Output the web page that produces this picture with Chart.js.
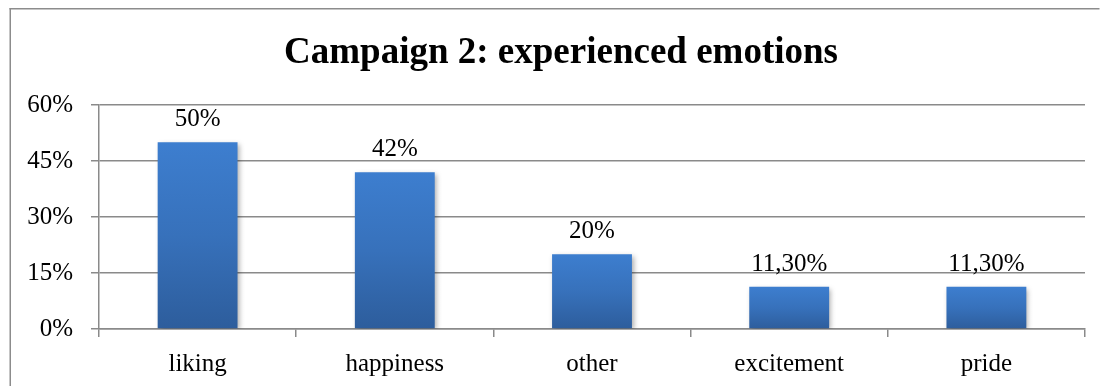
<!DOCTYPE html>
<html>
<head>
<meta charset="utf-8">
<script src="https://cdn.jsdelivr.net/npm/chart.js@4/dist/chart.umd.min.js"></script>
<style>
  html, body { margin: 0; padding: 0; background: #ffffff; overflow: hidden; }
  #wrap { width: 1102px; height: 388px; }
  canvas { display: block; }
</style>
</head>
<body>
<div id="wrap"><canvas id="chart" width="1102" height="388"></canvas></div>
<script>
// Share of respondents reporting each emotion
const categories = ['liking', 'happiness', 'other', 'excitement', 'pride'];
const shares = [50, 42, 20, 11.3, 11.3];
const yTicks = [0, 15, 30, 45, 60];
const chartTitle = 'Campaign 2: experienced emotions';

const SERIF = "'Liberation Serif', 'Times New Roman', serif";
const GRID = '#8a8a8a';

function formatShare(v) {
  return Number.isInteger(v) ? v + '%' : v.toFixed(2).replace('.', ',') + '%';
}

// Vertical blue gradient spanning each bar from its top to the baseline
function barFill(ctx) {
  const chart = ctx.chart;
  const y = chart.scales.y;
  if (!y || ctx.parsed === undefined) return '#3a78c4';
  const top = y.getPixelForValue(ctx.parsed.y);
  const bottom = y.getPixelForValue(0);
  if (!isFinite(top) || !isFinite(bottom) || top === bottom) return '#3a78c4';
  const g = chart.ctx.createLinearGradient(0, top, 0, bottom);
  g.addColorStop(0, '#3d7ecf');
  g.addColorStop(0.5, '#3771bb');
  g.addColorStop(1, '#2d5d9c');
  return g;
}

// White page, the frame's left and top edges, and the heading
const framePlugin = {
  id: 'frame',
  beforeDraw(chart) {
    const c = chart.ctx;
    c.save();
    c.fillStyle = '#ffffff';
    c.fillRect(0, 0, chart.width, chart.height);
    c.fillStyle = '#8c8c8c';
    c.fillRect(9.5, 8, 1.5, chart.height - 10);
    c.fillRect(9.5, 8, chart.width - 12, 1.5);
    c.font = 'bold 37px ' + SERIF;
    c.fillStyle = '#000000';
    c.textAlign = 'center';
    c.textBaseline = 'alphabetic';
    c.fillText(chartTitle, 561, 63);
    c.restore();
  }
};

const shadowPlugin = {
  id: 'barShadow',
  beforeDatasetsDraw(chart) {
    const c = chart.ctx;
    c.save();
    c.shadowColor = 'rgba(0,0,0,0.32)';
    c.shadowBlur = 5;
    c.shadowOffsetX = 2;
    c.shadowOffsetY = 2;
  },
  afterDatasetsDraw(chart) {
    chart.ctx.restore();
  }
};

const valueLabelPlugin = {
  id: 'valueLabels',
  afterDatasetsDraw(chart) {
    const c = chart.ctx;
    const meta = chart.getDatasetMeta(0);
    c.save();
    c.font = '25px ' + SERIF;
    c.fillStyle = '#000000';
    c.textAlign = 'center';
    c.textBaseline = 'alphabetic';
    meta.data.forEach((bar, i) => {
      c.fillText(formatShare(shares[i]), bar.x, bar.y - 16);
    });
    c.restore();
  }
};

new Chart(document.getElementById('chart'), {
  type: 'bar',
  data: {
    labels: categories,
    datasets: [{
      data: shares,
      backgroundColor: barFill,
      borderWidth: 0,
      categoryPercentage: 0.405,
      barPercentage: 1.0
    }]
  },
  options: {
    responsive: false,
    animation: false,
    events: [],
    layout: { padding: { top: 105, right: 17, bottom: 0, left: 0 } },
    plugins: {
      legend: { display: false },
      tooltip: { enabled: false },
      title: { display: false }
    },
    scales: {
      x: {
        afterFit(scale) { scale.height = 59; },
        grid: {
          offset: true,
          drawOnChartArea: false,
          drawTicks: true,
          tickLength: 8,
          color: GRID,
          lineWidth: 1.5
        },
        border: { display: true, color: GRID, width: 1.5 },
        ticks: {
          color: '#000000',
          padding: 12,
          maxRotation: 0,
          font: { family: SERIF, size: 25 }
        }
      },
      y: {
        min: 0,
        max: 60,
        afterFit(scale) { scale.width = 99; },
        afterBuildTicks(scale) { scale.ticks = yTicks.map(v => ({ value: v })); },
        grid: {
          drawTicks: true,
          tickLength: 8,
          color: GRID,
          lineWidth: 1.5
        },
        border: { display: true, color: GRID, width: 1.5 },
        ticks: {
          color: '#000000',
          padding: 18,
          font: { family: SERIF, size: 25 },
          callback: v => v + '%'
        }
      }
    }
  },
  plugins: [framePlugin, shadowPlugin, valueLabelPlugin]
});
</script>
</body>
</html>
